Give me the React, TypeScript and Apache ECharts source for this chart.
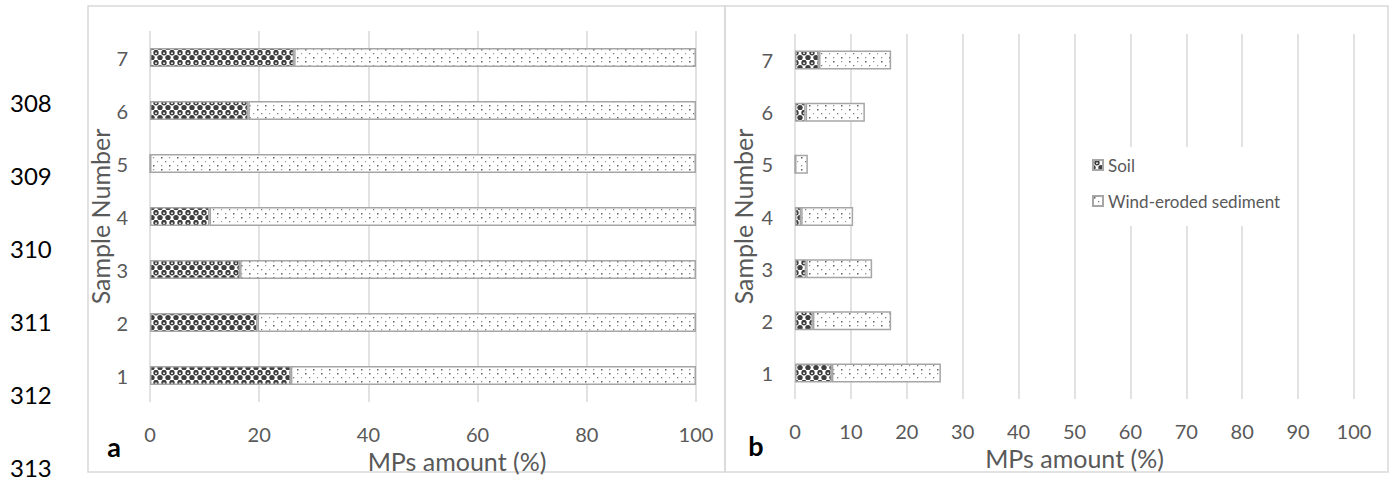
import React, { useEffect, useRef } from 'react';
import * as echarts from 'echarts';

const categories = ['1', '2', '3', '4', '5', '6', '7'];
const soilPctA = [25.8, 19.7, 16.5, 10.9, 0, 18.0, 26.4];
const sedimentPctA = [74.2, 80.3, 83.5, 89.1, 100, 82.0, 73.6];
const soilB = [6.6, 3.2, 2.0, 1.1, 0, 1.9, 4.3];
const sedimentB = [19.5, 14.0, 11.8, 9.3, 2.3, 10.6, 12.9];
const lineNumbers = ['308', '309', '310', '311', '312', '313'];
const seriesNames = ['Soil', 'Wind-eroded sediment'];
const axisTitleX = 'MPs amount (%)';
const axisTitleY = 'Sample Number';
const panelLetters = ['a', 'b'];

const FONT = 'Lato, "Open Sans", sans-serif';
const GRAY_TEXT = '#595959';
const GRID_COLOR = '#d9d9d9';
const BORDER = '#a6a6a6';

function makeTile(w: number, h: number, draw: (ctx: CanvasRenderingContext2D) => void) {
  const c = document.createElement('canvas');
  c.width = w;
  c.height = h;
  const ctx = c.getContext('2d') as CanvasRenderingContext2D;
  draw(ctx);
  return { image: c.toDataURL(), repeat: 'repeat', imageWidth: w, imageHeight: h } as any;
}

function soilPattern() {
  return makeTile(8, 10, (ctx) => {
    ctx.fillStyle = '#ffffff';
    ctx.fillRect(0, 0, 8, 10);
    const dark = '#3f3f3f';
    const circ = (x: number, y: number, r: number, col: string) => {
      ctx.fillStyle = col;
      ctx.beginPath();
      ctx.arc(x, y, r, 0, Math.PI * 2);
      ctx.fill();
    };
    circ(4, 2.8, 2.7, dark);
    circ(0, 7.6, 2.7, dark);
    circ(8, 7.6, 2.7, dark);
    ctx.fillStyle = dark;
    ctx.fillRect(2.5, 0, 3, 1.2);
    circ(4, 3.2, 0.9, '#ffffff');
  });
}

function sedimentPattern() {
  return makeTile(16, 12, (ctx) => {
    ctx.fillStyle = '#ffffff';
    ctx.fillRect(0, 0, 16, 12);
    const dot = (x: number, y: number, s: number, col: string) => {
      ctx.fillStyle = col;
      ctx.fillRect(x, y, s, s);
    };
    dot(1, 1, 1.5, '#5e5e5e');
    dot(9, 1, 1.2, '#909090');
    dot(5, 5, 1.3, '#7a7a7a');
    dot(13, 5, 1.2, '#9a9a9a');
    dot(1, 9, 1.3, '#909090');
    dot(9, 9, 1.5, '#5e5e5e');
  });
}

export default function App() {
  const ref = useRef<HTMLDivElement>(null);

  useEffect(() => {
    document.body.style.margin = '0';
    if (!ref.current) return;
    const chart = echarts.init(ref.current, null, { renderer: 'svg' });
    const soilFill = soilPattern();
    const sedFill = sedimentPattern();

    const xAxisCommon = {
      type: 'value',
      min: 0,
      max: 100,
      axisLine: { show: false },
      axisTick: { show: false },
      splitLine: { show: true, lineStyle: { color: GRID_COLOR, width: 1.5 } },
      axisLabel: { color: GRAY_TEXT, fontSize: 20, fontFamily: FONT, margin: 22 },
      name: axisTitleX,
      nameLocation: 'middle',
      nameGap: 41,
    };
    const yAxisCommon = {
      type: 'category',
      data: categories,
      axisLine: { show: false },
      axisTick: { show: false },
      splitLine: { show: false },
      axisLabel: { color: GRAY_TEXT, fontSize: 20, fontFamily: FONT, margin: 22 },
      name: axisTitleY,
      nameLocation: 'middle',
      nameTextStyle: { color: GRAY_TEXT, fontSize: 25, fontFamily: FONT },
    };

    const barCommon = {
      type: 'bar',
      barWidth: 19,
      itemStyle: { borderColor: BORDER, borderWidth: 1.5 },
    };

    chart.setOption({
      animation: false,
      grid: [
        { left: 150, right: 1393 - 696, top: 31, bottom: 480 - 402 },
        { left: 795, right: 1393 - 1354, top: 34, bottom: 480 - 399 },
      ],
      xAxis: [
        {
          ...xAxisCommon,
          gridIndex: 0,
          interval: 20,
          nameTextStyle: { color: GRAY_TEXT, fontSize: 25, fontFamily: FONT, padding: [0, 0, 0, 68] },
        },
        {
          ...xAxisCommon,
          gridIndex: 1,
          interval: 10,
          nameTextStyle: { color: GRAY_TEXT, fontSize: 25, fontFamily: FONT, padding: [0, 0, 0, 0] },
        },
      ],
      yAxis: [
        { ...yAxisCommon, gridIndex: 0, nameGap: 25 },
        { ...yAxisCommon, gridIndex: 1, nameGap: 40 },
      ],
      legend: {
        data: seriesNames,
        orient: 'vertical',
        left: 1082,
        top: 147,
        padding: [8, 12, 15, 10],
        backgroundColor: '#ffffff',
        itemWidth: 10,
        itemHeight: 10,
        itemGap: 16,
        icon: 'rect',
        textStyle: { color: GRAY_TEXT, fontSize: 17, fontFamily: FONT, lineHeight: 20 },
      },
      series: [
        {
          ...barCommon,
          name: seriesNames[0],
          stack: 'a',
          xAxisIndex: 0,
          yAxisIndex: 0,
          data: soilPctA,
          itemStyle: { ...barCommon.itemStyle, color: soilFill },
        },
        {
          ...barCommon,
          name: seriesNames[1],
          stack: 'a',
          xAxisIndex: 0,
          yAxisIndex: 0,
          data: sedimentPctA,
          itemStyle: { ...barCommon.itemStyle, color: sedFill },
        },
        {
          ...barCommon,
          name: seriesNames[0],
          stack: 'b',
          xAxisIndex: 1,
          yAxisIndex: 1,
          data: soilB,
          itemStyle: { ...barCommon.itemStyle, color: soilFill },
        },
        {
          ...barCommon,
          name: seriesNames[1],
          stack: 'b',
          xAxisIndex: 1,
          yAxisIndex: 1,
          data: sedimentB,
          itemStyle: { ...barCommon.itemStyle, color: sedFill },
        },
      ],
      graphic: [
        {
          type: 'rect',
          shape: { x: 88, y: 6, width: 637, height: 466 },
          style: { fill: 'none', stroke: GRID_COLOR, lineWidth: 1.5 },
          silent: true,
        },
        {
          type: 'rect',
          shape: { x: 725, y: 6, width: 663, height: 466 },
          style: { fill: 'none', stroke: GRID_COLOR, lineWidth: 1.5 },
          silent: true,
        },
        ...lineNumbers.map((t, i) => ({
          type: 'text',
          x: 10,
          y: 102 + i * 73,
          style: {
            text: t,
            fill: '#000000',
            font: `24px ${FONT}`,
            textAlign: 'left',
            textVerticalAlign: 'middle',
          },
          silent: true,
        })),
        {
          type: 'text',
          x: 114,
          y: 446,
          style: {
            text: panelLetters[0],
            fill: '#000000',
            font: `bold 27px ${FONT}`,
            textAlign: 'center',
            textVerticalAlign: 'middle',
          },
        },
        {
          type: 'text',
          x: 756,
          y: 445,
          style: {
            text: panelLetters[1],
            fill: '#000000',
            font: `bold 27px ${FONT}`,
            textAlign: 'center',
            textVerticalAlign: 'middle',
          },
        },
      ],
    });
    return () => chart.dispose();
  }, []);

  return <div ref={ref} style={{ width: 1393, height: 480 }} />;
}
